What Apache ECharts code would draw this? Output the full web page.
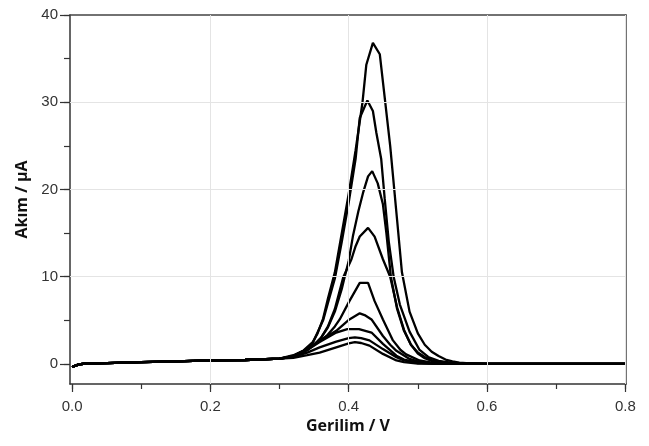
<!DOCTYPE html>
<html>
<head>
<meta charset="utf-8">
<script src="https://cdn.jsdelivr.net/npm/echarts@6/dist/echarts.min.js"></script>
<style>
html,body{margin:0;padding:0;background:#fff;}
#chart{width:649px;height:446px;}
</style>
</head>
<body>
<div id="chart"></div>
<script>
// Tick positions
const xMajorTicks = [0, 0.2, 0.4, 0.6, 0.8];
const xMinorTicks = [0, 0.1, 0.2, 0.3, 0.4, 0.5, 0.6, 0.7, 0.8];
const yMajorTicks = [0, 10, 20, 30, 40];
const yMinorTicks = [0, 5, 10, 15, 20, 25, 30, 35, 40];
const xGridLines = [0.2, 0.4, 0.6, 0.8];
const yGridLines = [10, 20, 30];

// Shared baseline before the peak and after it  [potential V, current µA]
const baseHead = [[0,-0.35],[0.005,-0.2],[0.01,-0.05],[0.02,0.05],[0.05,0.1],[0.1,0.2],[0.15,0.3],[0.2,0.4],[0.25,0.45],[0.3,0.6]];
const baseTail = [[0.58,0.03],[0.6,0.01],[0.7,0],[0.8,0]];

// Peak regions of the nine voltammograms
const curve1 = [[0.32,1.0],[0.334,1.5],[0.348,2.5],[0.355,3.5],[0.363,5.2],[0.37,7.5],[0.38,10.5],[0.39,15],[0.40,19.5],[0.41,24.5],[0.42,30],[0.4255,34.3],[0.435,36.8],[0.445,35.5],[0.45,32],[0.46,25],[0.47,16.5],[0.477,10.5],[0.488,6],[0.50,3.5],[0.51,2.2],[0.52,1.4],[0.53,0.9],[0.54,0.5],[0.55,0.3],[0.56,0.15]];
const curve2 = [[0.32,0.9],[0.334,1.4],[0.348,2.4],[0.363,5],[0.37,7],[0.38,9.8],[0.39,14],[0.40,18.5],[0.41,23.5],[0.416,28.2],[0.427,30.2],[0.435,29],[0.44,26.5],[0.447,23.5],[0.452,19],[0.458,14],[0.465,10],[0.474,6.8],[0.488,3.7],[0.5025,1.6],[0.515,0.8],[0.53,0.35],[0.55,0.12]];
const curve3 = [[0.32,0.8],[0.34,1.6],[0.35,2.2],[0.36,3],[0.37,4.2],[0.38,6],[0.39,8.6],[0.394,9.9],[0.40,11.8],[0.406,14.6],[0.414,17.5],[0.4207,19.6],[0.428,21.5],[0.434,22.1],[0.442,20.7],[0.4495,18.3],[0.4545,15],[0.461,10],[0.47,6.3],[0.48,3.8],[0.49,2.2],[0.50,1.3],[0.51,0.8],[0.52,0.45],[0.54,0.15],[0.56,0.05]];
const curve4 = [[0.32,0.8],[0.34,1.6],[0.35,2.2],[0.36,3],[0.37,4.3],[0.38,6.3],[0.392,9.9],[0.404,12],[0.41,13.5],[0.416,14.6],[0.428,15.6],[0.4375,14.6],[0.4495,12],[0.46,10],[0.47,6.5],[0.48,3.9],[0.49,2.2],[0.50,1.2],[0.51,0.65],[0.52,0.35],[0.54,0.1]];
const curve5 = [[0.32,0.9],[0.34,1.7],[0.35,2.2],[0.36,2.7],[0.368,3.2],[0.38,4.3],[0.387,5.1],[0.401,7.2],[0.416,9.3],[0.428,9.3],[0.4375,7.2],[0.4495,5.1],[0.464,2.7],[0.475,1.6],[0.483,1.1],[0.5025,0.4],[0.52,0.15],[0.54,0.05]];
const curve6 = [[0.32,0.9],[0.34,1.7],[0.358,2.7],[0.382,3.8],[0.401,5.1],[0.416,5.8],[0.423,5.6],[0.433,5.1],[0.4495,3.2],[0.46,2.2],[0.469,1.5],[0.488,0.57],[0.50,0.3],[0.52,0.1],[0.54,0.03]];
const curve7 = [[0.32,0.85],[0.34,1.6],[0.358,2.5],[0.382,3.6],[0.398,4.0],[0.415,4.0],[0.433,3.6],[0.4495,2.3],[0.469,0.95],[0.48,0.5],[0.50,0.15],[0.52,0.05]];
const curve8 = [[0.32,0.8],[0.34,1.3],[0.358,1.9],[0.382,2.55],[0.40,2.95],[0.409,3.05],[0.418,2.95],[0.43,2.7],[0.4495,1.7],[0.469,0.76],[0.48,0.4],[0.50,0.1],[0.52,0.03]];
const curve9 = [[0.32,0.7],[0.34,1.0],[0.358,1.3],[0.382,1.9],[0.40,2.35],[0.409,2.5],[0.418,2.4],[0.43,2.1],[0.4495,1.15],[0.469,0.4],[0.48,0.2],[0.50,0.05]];

const curves = [curve1, curve2, curve3, curve4, curve5, curve6, curve7, curve8, curve9];

const chart = echarts.init(document.getElementById('chart'), null, {renderer: 'canvas'});

const labelFont = {color: '#333', fontFamily: 'Liberation Sans, Arial, sans-serif', fontSize: 15};
const axisCol = '#333';
const X_MIN = -0.003, X_MAX = 0.801, Y_MIN = -2.3, Y_MAX = 40;

const series = curves.map(c => ({
  type: 'line',
  data: baseHead.concat(c, baseTail),
  showSymbol: false,
  symbol: 'none',
  smooth: false,
  z: 3,
  silent: true,
  lineStyle: {color: '#000', width: 2.3}
}));

series.unshift({
  type: 'line',
  data: [[0, 0]],
  showSymbol: false,
  symbol: 'none',
  lineStyle: {opacity: 0},
  z: 1,
  silent: true,
  markLine: {
    silent: true,
    symbol: 'none',
    animation: false,
    label: {show: false},
    lineStyle: {color: '#e4e4e4', width: 1, type: 'solid'},
    data: xGridLines.map(v => ({xAxis: v})).concat(yGridLines.map(v => ({yAxis: v})))
  }
});

const frameAxis = (pos) => ({
  type: 'value', min: pos === 'top' ? X_MIN : Y_MIN, max: pos === 'top' ? X_MAX : Y_MAX, position: pos,
  axisLine: {show: true, onZero: false, lineStyle: {color: '#444', width: 1.5}},
  axisTick: {show: false}, axisLabel: {show: false}, splitLine: {show: false}
});

chart.setOption({
  animation: false,
  backgroundColor: '#fff',
  grid: {left: 70, right: 23, top: 15, bottom: 62, show: false},
  xAxis: [{
    type: 'value', min: X_MIN, max: X_MAX, position: 'bottom',
    name: 'Gerilim / V', nameLocation: 'middle', nameGap: 34,
    nameTextStyle: {fontFamily: 'Open Sans, sans-serif', fontWeight: 'bold', fontSize: 16, color: '#111'},
    axisLine: {show: true, onZero: false, lineStyle: {color: axisCol, width: 1.5}},
    axisTick: {show: true, length: 5, customValues: xMinorTicks, lineStyle: {color: axisCol, width: 1.2}},
    axisLabel: Object.assign({customValues: xMajorTicks, margin: 15, formatter: v => v.toFixed(1)}, labelFont),
    splitLine: {show: false}
  }, {
    type: 'value', min: X_MIN, max: X_MAX, position: 'bottom',
    axisLine: {show: false, onZero: false},
    axisTick: {show: true, length: 8, customValues: xMajorTicks, lineStyle: {color: axisCol, width: 1.2}},
    axisLabel: {show: false},
    splitLine: {show: false}
  }, frameAxis('top')],
  yAxis: [{
    type: 'value', min: Y_MIN, max: Y_MAX, position: 'left',
    name: 'Akım / µA', nameLocation: 'middle', nameGap: 40, nameRotate: 90,
    nameTextStyle: {fontFamily: 'Open Sans, sans-serif', fontWeight: 'bold', fontSize: 16, color: '#111'},
    axisLine: {show: true, onZero: false, lineStyle: {color: axisCol, width: 1.5}},
    axisTick: {show: true, length: 6, customValues: yMinorTicks, lineStyle: {color: axisCol, width: 1.2}},
    axisLabel: Object.assign({customValues: yMajorTicks, margin: 12}, labelFont),
    splitLine: {show: false}
  }, {
    type: 'value', min: Y_MIN, max: Y_MAX, position: 'left',
    axisLine: {show: false, onZero: false},
    axisTick: {show: true, length: 10, customValues: yMajorTicks, lineStyle: {color: axisCol, width: 1.2}},
    axisLabel: {show: false},
    splitLine: {show: false}
  }, frameAxis('right')],
  series: series
});
</script>
</body>
</html>
